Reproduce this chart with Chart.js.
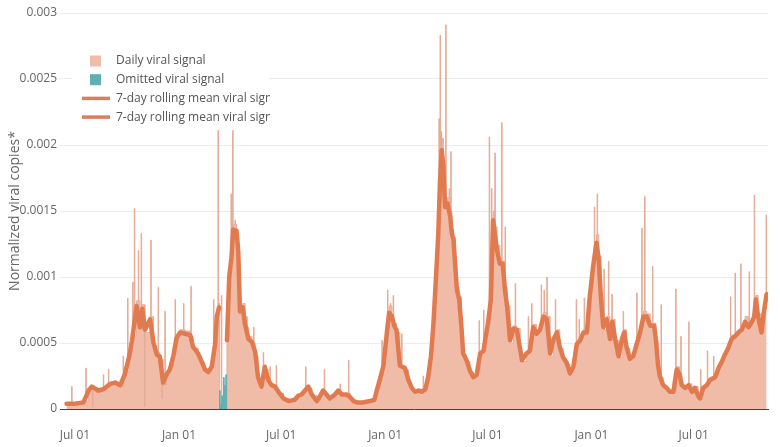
<!DOCTYPE html>
<html>
<head>
<meta charset="utf-8">
<script src="https://cdn.jsdelivr.net/npm/chart.js@4.4.1/dist/chart.umd.min.js"></script>
<style>
  body { margin: 0; background: #fff; }
  canvas { display: block; }
</style>
</head>
<body>
<canvas id="viralChart" width="780" height="447"></canvas>
<script>
// days counted from Jul 01 2020
const xTickDays = [0, 184, 365, 549, 730, 914, 1095];
const xTickLabels = ['Jul 01', 'Jan 01', 'Jul 01', 'Jan 01', 'Jul 01', 'Jan 01', 'Jul 01'];
const yTickValues = [0, 0.0005, 0.001, 0.0015, 0.002, 0.0025, 0.003];
const yTickLabels = ['0', '0.0005', '0.001', '0.0015', '0.002', '0.0025', '0.003'];

const seriesNames = ['Daily viral signal', 'Omitted viral signal',
  '7-day rolling mean viral signal', '7-day rolling mean viral signal'];

// 7-day rolling mean, before the omitted stretch
const line1Days = [-15, 0, 15, 24, 30, 41, 50, 62, 71, 80,
  88, 96, 101, 109, 115, 119, 124, 133, 139, 145,
  150, 156, 162, 168, 174, 180, 186, 195, 204, 209,
  218, 224, 230, 236, 242, 248, 251, 255];
const line1Values = [0.00004, 0.00004, 0.00005, 0.00014, 0.00017, 0.00014, 0.00015, 0.00019, 0.0002, 0.00018,
  0.00026, 0.0004, 0.00052, 0.00078, 0.00062, 0.00076, 0.0006, 0.00068, 0.0005, 0.00041,
  0.0004, 0.0002, 0.00026, 0.0003, 0.0004, 0.00054, 0.00058, 0.00057, 0.00056, 0.00047,
  0.00042, 0.00036, 0.0003, 0.00028, 0.00032, 0.00049, 0.0007, 0.00077];

// 7-day rolling mean, after the omitted stretch
const line2Days = [269, 273, 277, 280, 286, 289, 292, 297, 301, 307,
  313, 319, 324, 330, 336, 342, 348, 354, 360, 369,
  378, 389, 395, 401, 407, 413, 419, 428, 434, 439,
  445, 451, 460, 466, 472, 481, 487, 493, 499, 510,
  522, 530, 534, 540, 546, 552, 556, 561, 565, 569,
  575, 584, 590, 596, 602, 608, 614, 620, 625, 630,
  634, 639, 643, 646, 649, 652, 655, 659, 664, 667,
  670, 673, 676, 680, 684, 687, 693, 699, 705, 711,
  717, 723, 727, 731, 736, 740, 743, 747, 752, 757,
  761, 765, 770, 776, 782, 788, 791, 799, 805, 811,
  817, 823, 829, 835, 841, 847, 853, 858, 864, 870,
  876, 882, 888, 894, 900, 906, 911, 917, 923, 927,
  931, 935, 941, 947, 951, 956, 962, 968, 972, 976,
  982, 988, 994, 1000, 1006, 1012, 1018, 1025, 1028, 1032,
  1035, 1041, 1047, 1053, 1059, 1065, 1070, 1074, 1080, 1086,
  1092, 1097, 1103, 1106, 1112, 1118, 1124, 1133, 1139, 1145,
  1150, 1156, 1162, 1168, 1174, 1180, 1186, 1192, 1198, 1202,
  1205, 1209, 1215, 1219, 1224];
const line2Values = [0.00052, 0.001, 0.00115, 0.00136, 0.00135, 0.00119, 0.00074, 0.00077, 0.00064, 0.00053,
  0.00051, 0.00043, 0.00024, 0.00017, 0.00032, 0.00022, 0.00018, 0.00017, 0.00013, 0.00008,
  0.00006, 0.00007, 0.0001, 0.00011, 0.00014, 0.00017, 0.00011, 0.00006, 0.0001, 0.00014,
  0.00011, 0.00008, 0.00011, 0.00014, 0.00011, 0.00011, 0.00009, 0.00006, 0.00005, 0.00005,
  0.00006, 0.00007, 0.00014, 0.00023, 0.00033, 0.00058, 0.00073, 0.0007, 0.00063, 0.0006,
  0.00033, 0.00031, 0.00022, 0.00016, 0.00013, 0.00014, 0.00013, 0.00015, 0.00024, 0.0004,
  0.00062, 0.001, 0.00133, 0.00172, 0.00196, 0.00184, 0.00153, 0.00156, 0.00146, 0.00133,
  0.00128, 0.00108, 0.0009, 0.00083, 0.00062, 0.00042, 0.00037, 0.00029, 0.00024, 0.00026,
  0.00042, 0.00044, 0.00055, 0.00065, 0.00083, 0.00143, 0.00133, 0.0012, 0.0011, 0.0011,
  0.0009, 0.00077, 0.00052, 0.00061, 0.0006, 0.00045, 0.00037, 0.00042, 0.00044, 0.00062,
  0.00057, 0.0006, 0.0007, 0.00068, 0.00042, 0.00053, 0.00058, 0.00047, 0.00039, 0.00035,
  0.00027, 0.00032, 0.00049, 0.00052, 0.00058, 0.00058, 0.00085, 0.00108, 0.00126, 0.00113,
  0.00083, 0.00062, 0.00068, 0.00053, 0.00066, 0.00053, 0.0004, 0.00053, 0.00058, 0.00047,
  0.00038, 0.0004, 0.00049, 0.00058, 0.0007, 0.0007, 0.00063, 0.00063, 0.00053, 0.00033,
  0.00025, 0.00018, 0.00016, 0.00013, 0.00013, 0.0003, 0.00026, 0.00018, 0.00016, 0.00018,
  0.00013, 0.00016, 0.0001, 0.00008, 0.00016, 0.00018, 0.00022, 0.00024, 0.00031, 0.00036,
  0.00041, 0.00046, 0.00053, 0.00055, 0.00058, 0.0006, 0.00066, 0.00062, 0.00066, 0.0007,
  0.00083, 0.0007, 0.00058, 0.00073, 0.00087];

// daily signal level on the same days (held until the next day listed)
const dailyBase1 = [0.00004, 0.00005, 0.00006, 0.00015, 0.00016, 0.00013, 0.00016, 0.0002, 0.00019, 0.00017,
  0.00028, 0.00042, 0.00055, 0.00082, 0.0006, 0.00079, 0.00058, 0.0007, 0.00048, 0.00043,
  0.00038, 0.00018, 0.00028, 0.00031, 0.00042, 0.00056, 0.0006, 0.00059, 0.00055, 0.00046,
  0.0004, 0.00035, 0.00029, 0.00027, 0.00034, 0.00052, 0.00074, 0.0008];
const dailyBase2 = [0.00055, 0.00105, 0.00125, 0.0014, 0.0013, 0.0011, 0.00072, 0.0008, 0.00062, 0.00055,
  0.0005, 0.0004, 0.00022, 0.00019, 0.0003, 0.0002, 0.00019, 0.00016, 0.00012, 0.00008,
  0.00006, 0.00008, 0.0001, 0.00012, 0.00015, 0.00016, 0.0001, 0.00006, 0.00011, 0.00013,
  0.0001, 0.00008, 0.00012, 0.00013, 0.0001, 0.00012, 0.00008, 0.00006, 0.00005, 0.00004,
  0.00005, 0.00008, 0.00015, 0.00025, 0.00035, 0.0006, 0.00078, 0.00068, 0.00065, 0.00058,
  0.00031, 0.0003, 0.0002, 0.00015, 0.00012, 0.00015, 0.00012, 0.00016, 0.00026, 0.00044,
  0.00066, 0.00108, 0.0014, 0.00185, 0.00205, 0.0019, 0.00158, 0.0016, 0.0015, 0.00136,
  0.0013, 0.0011, 0.00092, 0.00085, 0.0006, 0.00041, 0.00036, 0.00028, 0.00023, 0.00027,
  0.00044, 0.00046, 0.00058, 0.00068, 0.00088, 0.0015, 0.00138, 0.00124, 0.00112, 0.00112,
  0.00092, 0.00078, 0.0005, 0.00063, 0.00061, 0.00044, 0.00036, 0.00044, 0.00046, 0.00064,
  0.00059, 0.00062, 0.00073, 0.0007, 0.0004, 0.00055, 0.0006, 0.00046, 0.00038, 0.00034,
  0.00026, 0.00034, 0.0005, 0.00054, 0.0006, 0.0006, 0.0009, 0.00115, 0.00132, 0.00116,
  0.00085, 0.0006, 0.0007, 0.00052, 0.00068, 0.00052, 0.00039, 0.00055, 0.0006, 0.00046,
  0.00037, 0.00042, 0.00052, 0.0006, 0.00074, 0.00072, 0.00064, 0.00065, 0.00052, 0.00032,
  0.00024, 0.00017, 0.00015, 0.00012, 0.00014, 0.00032, 0.00025, 0.00017, 0.00015, 0.00019,
  0.00012, 0.00017, 0.00009, 0.00008, 0.00017, 0.0002, 0.00024, 0.00026, 0.00033, 0.00038,
  0.00043, 0.0005, 0.00056, 0.00058, 0.0006, 0.00063, 0.0007, 0.00064, 0.00068, 0.00074,
  0.00086, 0.00072, 0.0006, 0.00076, 0.0009];
const gapDays = [256];
const gapValues = [0];

// single days that stand out from the daily level
const spikeDays = [-6, 19, 31, 50, 59, 85, 93, 102, 105, 112,
  117, 123, 134, 147, 154, 159, 177, 192, 205, 245,
  253, 259, 276, 279, 283, 295, 304, 316, 333, 345,
  356, 408, 441, 469, 484, 543, 553, 558, 563, 578,
  616, 637, 644, 646, 648, 656, 662, 665, 715, 723,
  733, 737, 743, 755, 761, 779, 802, 808, 825, 830,
  835, 850, 887, 892, 901, 919, 924, 936, 944, 950,
  970, 994, 1003, 1008, 1022, 1037, 1063, 1072, 1086, 1107,
  1119, 1130, 1160, 1168, 1178, 1193, 1202, 1223];
const spikeValues = [0.00017, 0.00031, 0.00001, 0.00026, 0.0003, 0.0004, 0.00084, 0.00096, 0.00152, 0.0012,
  0.00133, 0.00002, 0.00128, 0.00092, 0.00008, 0.00074, 0.00083, 0.0008, 0.00093, 0.00083,
  0.00211, 0.00086, 0.00163, 0.00211, 0.00143, 0.00078, 0.0007, 0.00062, 0.00043, 0.00032,
  0.00033, 0.00032, 0.0003, 0.00019, 0.00037, 0.00052, 0.0009, 0.0008, 0.00086, 0.00057,
  0.00025, 0.00092, 0.0022, 0.00283, 0.0021, 0.00291, 0.00167, 0.00195, 0.00067, 0.00075,
  0.00206, 0.00167, 0.00194, 0.00217, 0.00138, 0.00095, 0.0007, 0.0008, 0.00094, 0.0009,
  0.001, 0.00083, 0.00083, 0.00068, 0.00084, 0.00153, 0.00163, 0.00106, 0.00112, 0.00087,
  0.00074, 0.00088, 0.00137, 0.00161, 0.00108, 0.00079, 0.00091, 0.00055, 0.00066, 0.0003,
  0.00044, 0.0004, 0.00085, 0.00103, 0.0011, 0.00104, 0.00162, 0.00147];

// omitted days
const omittedDays = [256, 258, 260, 263, 265, 267];
const omittedValues = [0.00014, 0.00004, 0.0001, 0.00024, 0.00018, 0.00026];

const fillColor = '#f0bca7';
const omittedColor = '#5fafb0';
const lineColor = '#e27a4f';

function buildDaily() {
  const base = [];
  line1Days.forEach((d, i) => base.push({ x: d, y: dailyBase1[i], r: 1 }));
  gapDays.forEach((d, i) => base.push({ x: d, y: gapValues[i], r: 1 }));
  line2Days.forEach((d, i) => base.push({ x: d, y: dailyBase2[i], r: 1 }));
  base.sort((a, b) => a.x - b.x);
  const pts = base.slice();
  spikeDays.forEach((d, i) => {
    let level = 0;
    base.forEach(p => { if (p.x <= d) level = p.y; });
    pts.push({ x: d, y: spikeValues[i], r: 2 });
    pts.push({ x: d + 1, y: level, r: 0 });
  });
  pts.sort((a, b) => a.x - b.x || a.r - b.r);
  return pts.map(p => ({ x: p.x, y: p.y }));
}

function buildOmitted() {
  const pts = [{ x: omittedDays[0] - 1, y: 0 }];
  omittedDays.forEach((d, i) => {
    pts.push({ x: d, y: omittedValues[i] });
    pts.push({ x: d + 1, y: 0 });
  });
  return pts;
}

function pairs(days, vals) {
  return days.map((d, i) => ({ x: d, y: vals[i] }));
}

const insideLegend = {
  id: 'insideLegend',
  afterDraw(chart) {
    const ctx = chart.ctx;
    ctx.save();
    ctx.fillStyle = '#fff';
    ctx.fillRect(72, 51, 197, 76);
    ctx.beginPath();
    ctx.rect(0, 0, 270, 447);
    ctx.clip();
    ctx.font = "12px 'Open Sans', sans-serif";
    ctx.textBaseline = 'middle';
    chart.data.datasets.forEach((ds, i) => {
      const y = 61 + i * 18.7;
      if (i < 2) {
        ctx.fillStyle = i === 0 ? fillColor : omittedColor;
        ctx.fillRect(90, y - 5.5, 11, 11);
      } else {
        ctx.strokeStyle = '#dc7e5a';
        ctx.lineWidth = 3.5;
        ctx.beginPath();
        ctx.moveTo(82, y);
        ctx.lineTo(110, y);
        ctx.stroke();
      }
      ctx.fillStyle = '#555';
      ctx.fillText(ds.label, 116, y);
    });
    ctx.restore();
  }
};

Chart.defaults.font.family = "'Open Sans', sans-serif";
Chart.defaults.color = '#666';

new Chart(document.getElementById('viralChart'), {
  type: 'line',
  data: {
    datasets: [
      {
        label: seriesNames[0],
        data: buildDaily(),
        stepped: true,
        fill: 'origin',
        backgroundColor: fillColor,
        borderColor: '#e3a993',
        borderWidth: 0.9,
        pointRadius: 0,
        order: 2
      },
      {
        label: seriesNames[1],
        data: buildOmitted(),
        stepped: true,
        fill: 'origin',
        backgroundColor: omittedColor,
        borderColor: omittedColor,
        borderWidth: 1,
        pointRadius: 0,
        order: 1
      },
      {
        label: seriesNames[2],
        data: pairs(line1Days, line1Values),
        fill: false,
        borderColor: lineColor,
        borderWidth: 4.5,
        borderJoinStyle: 'round',
        borderCapStyle: 'round',
        tension: 0,
        pointRadius: 0,
        order: 0
      },
      {
        label: seriesNames[3],
        data: pairs(line2Days, line2Values),
        fill: false,
        borderColor: lineColor,
        borderWidth: 4.5,
        borderJoinStyle: 'round',
        borderCapStyle: 'round',
        tension: 0,
        pointRadius: 0,
        order: 0
      }
    ]
  },
  options: {
    responsive: false,
    animation: false,
    layout: { padding: { top: 13, right: 12, left: 0, bottom: 0 } },
    plugins: { legend: { display: false }, tooltip: { enabled: false } },
    scales: {
      x: {
        type: 'linear',
        min: -26.5,
        max: 1226.5,
        afterBuildTicks: s => { s.ticks = xTickDays.map(v => ({ value: v })); },
        afterFit: s => { s.height = 38; },
        grid: { display: false, drawTicks: false },
        border: { display: true, color: '#444', width: 1 },
        ticks: {
          padding: 19,
          maxRotation: 0,
          autoSkip: false,
          font: { size: 12 },
          color: '#666',
          callback: (v, i) => xTickLabels[i]
        }
      },
      y: {
        min: 0,
        max: 0.003,
        afterBuildTicks: s => { s.ticks = yTickValues.map(v => ({ value: v })); },
        afterFit: s => { s.width = 60; },
        grid: { color: '#ececec', drawTicks: false },
        border: { display: false },
        title: {
          display: true,
          text: 'Normalized viral copies*',
          font: { size: 14 },
          color: '#666',
          padding: { top: 7, bottom: 0 }
        },
        ticks: {
          padding: 3,
          font: { size: 12 },
          color: '#666',
          callback: (v, i) => yTickLabels[i]
        }
      }
    }
  },
  plugins: [insideLegend]
});
</script>
</body>
</html>
